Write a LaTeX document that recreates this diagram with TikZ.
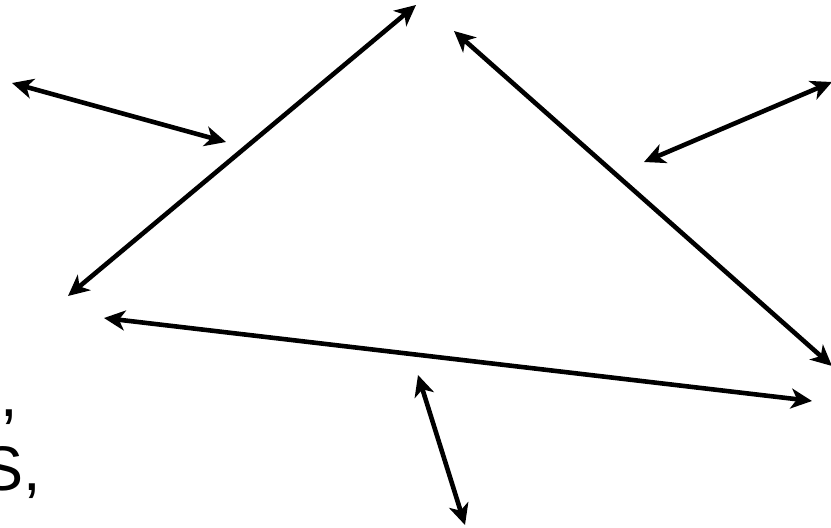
\documentclass[tikz,border=0pt]{standalone}
\usepackage{fontspec}
\setmainfont{Liberation Sans}
\usetikzlibrary{arrows.meta}

\begin{document}
\begin{tikzpicture}[
  x=1pt, y=-1pt,
  arr/.style={{Stealth[length=21pt,width=20pt,inset=6pt]}-{Stealth[length=21pt,width=20pt,inset=6pt]},
    line width=4.6pt},
  frag/.style={anchor=base east, inner sep=0pt,
    font=\fontsize{63}{75}\selectfont}
]
\useasboundingbox (0,0) rectangle (831,528);
\clip (0,0) rectangle (831,528);

% Triangle corners
\coordinate (leftA) at (68,296);
\coordinate (topA) at (416,5);
\coordinate (topB) at (454,31);
\coordinate (rightB) at (832,366);
\coordinate (leftC) at (104,318);
\coordinate (rightC) at (812,401);

% Loose ends
\coordinate (farL) at (12,83);
\coordinate (nearL) at (226,142);
\coordinate (farR) at (832,82);
\coordinate (nearR) at (644,162);
\coordinate (nearB) at (418,375);
\coordinate (farB) at (465,525);

% Text fragments at the left edge
\node[frag] (line1) at (18,416) {,};
\node[frag] (line2) at (41,490) {S,};

% Triangle
\draw[arr] (leftA) -- (topA);
\draw[arr] (topB) -- (rightB);
\draw[arr] (leftC) -- (rightC);

% Outer arrows
\draw[arr] (farL) -- (nearL);
\draw[arr] (nearR) -- (farR);
\draw[arr] (nearB) -- (farB);

\end{tikzpicture}
\end{document}
